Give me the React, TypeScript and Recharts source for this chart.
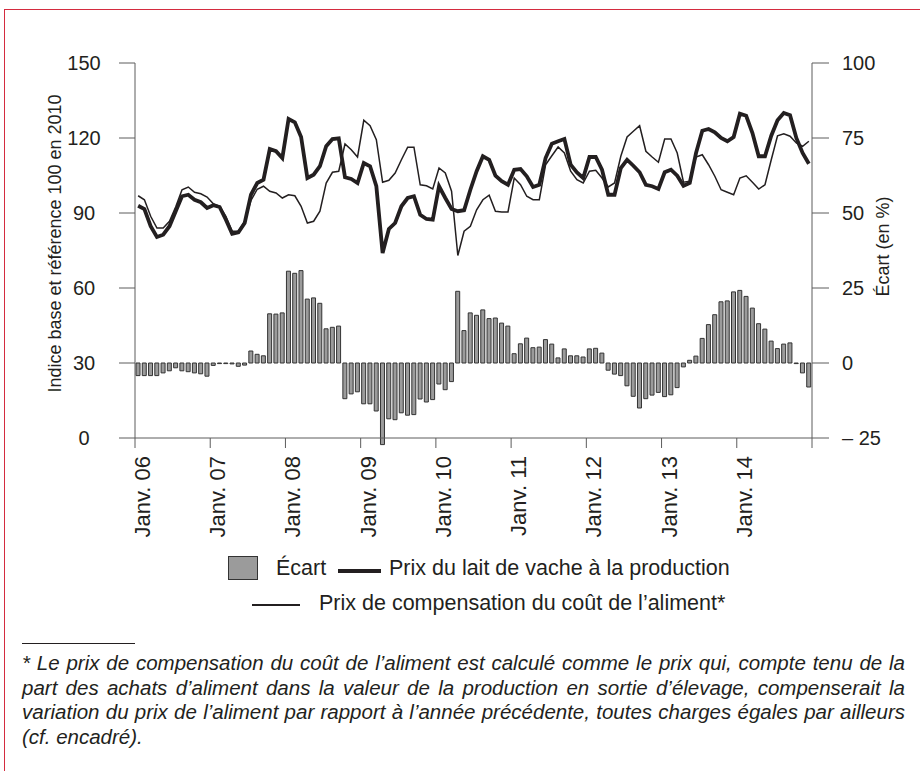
import React from 'react';
import { ComposedChart, Bar, Line, XAxis, YAxis, Legend } from 'recharts';

// Tick labels of the month axis (one per January)
const yearLabels = ['Janv. 06', 'Janv. 07', 'Janv. 08', 'Janv. 09', 'Janv. 10', 'Janv. 11', 'Janv. 12', 'Janv. 13', 'Janv. 14'];

// Écart (en %) — right axis, monthly Jan 2006 .. Dec 2014
const ecart = [
  -4.2, -4.2, -4.2, -4.2, -3.3, -2.6, -1.6, -2.6, -2.9, -3.3, -3.6, -4.4,
  -0.8, -0.2, -0.2, -0.3, -1.1, -0.7, 4.0, 2.9, 2.4, 16.4, 16.3, 16.7,
  30.6, 29.9, 30.8, 21.3, 21.7, 19.9, 11.4, 11.9, 12.3, -11.9, -10.3, -9.6,
  -13.6, -13.6, -16.0, -27.2, -18.6, -18.9, -16.6, -17.4, -17.2, -12.0, -13.0, -12.2,
  -7.0, -8.9, -6.2, 23.9, 10.8, 16.7, 15.9, 17.7, 14.8, 15.0, 13.3, 12.3,
  3.1, 6.4, 8.3, 5.1, 5.3, 7.8, 6.3, 1.7, 4.7, 2.4, 2.4, 2.0,
  4.7, 4.9, 3.3, -2.4, -3.7, -4.2, -7.6, -11.1, -15.0, -11.9, -10.7, -9.8,
  -11.2, -10.6, -8.2, -1.3, 0.9, 2.3, 8.2, 12.8, 16.1, 20.4, 20.7, 23.7,
  24.2, 22.2, 18.3, 13.1, 11.3, 7.3, 4.8, 6.3, 6.7, -0.2, -3.3, -8.0,
];

// Prix du lait de vache à la production — left axis
const prixLait = [
  92.9, 91.6, 84.7, 80.4, 81.3, 84.7, 90.7, 96.7, 97.3, 95.3, 94.3, 92.0,
  93.1, 92.4, 87.3, 81.7, 82.3, 86.0, 97.3, 102.0, 103.3, 115.6, 114.7, 112.0,
  127.6, 126.3, 120.4, 104.0, 105.3, 108.7, 116.7, 119.6, 119.9, 104.3, 103.6, 102.0,
  110.0, 108.7, 100.7, 74.0, 83.6, 86.0, 92.7, 96.0, 96.7, 89.3, 87.6, 87.3,
  100.7, 96.0, 91.6, 90.7, 91.1, 99.3, 106.7, 112.7, 111.3, 104.9, 102.7, 101.3,
  107.3, 107.6, 104.7, 100.4, 101.3, 112.0, 117.7, 118.7, 119.6, 109.3, 106.2, 104.0,
  112.4, 112.4, 107.3, 97.3, 97.3, 108.0, 111.3, 108.9, 106.3, 101.3, 100.7, 99.6,
  106.3, 107.3, 104.9, 100.9, 102.0, 114.0, 122.9, 123.6, 122.3, 120.0, 118.7, 120.4,
  129.7, 128.9, 122.0, 112.7, 112.7, 120.9, 127.1, 130.0, 129.1, 120.0, 114.0, 109.7,
];

// Prix de compensation du coût de l'aliment — left axis
const prixCompensation = [
  96.9, 95.3, 88.7, 84.0, 84.0, 86.7, 92.5, 99.3, 100.4, 98.3, 97.7, 96.4,
  93.7, 92.7, 88.7, 82.7, 82.7, 86.7, 95.0, 99.5, 100.7, 98.7, 98.0, 96.0,
  97.3, 96.9, 92.7, 86.0, 86.7, 90.7, 102.0, 106.3, 106.7, 117.6, 115.3, 112.4,
  127.1, 124.9, 119.3, 102.3, 103.1, 106.0, 111.3, 116.3, 116.3, 101.3, 100.9, 99.6,
  108.0, 106.0, 98.7, 73.0, 82.7, 84.7, 91.3, 95.3, 97.1, 90.7, 90.4, 90.4,
  104.0, 101.3, 96.7, 95.3, 95.3, 109.3, 112.9, 116.4, 114.0, 106.7, 103.3, 102.0,
  106.7, 107.1, 104.0, 100.4, 102.0, 112.7, 120.4, 122.7, 124.9, 114.7, 112.4, 110.3,
  119.6, 119.6, 114.0, 102.3, 102.7, 112.4, 113.3, 109.3, 104.7, 99.3, 98.3, 97.3,
  104.0, 104.9, 102.3, 99.6, 101.3, 111.3, 120.9, 121.7, 120.7, 118.0, 116.7, 118.7,
];

const leftTicks = [0, 30, 60, 90, 120, 150];
const rightTicks = [-25, 0, 25, 50, 75, 100];

const data = ecart.map((e, i) => ({
  m: i + 0.5,
  ecart: e,
  lait: prixLait[i],
  comp: prixCompensation[i],
}));
const monthTicks = Array.from({ length: yearLabels.length + 1 }, (_, k) => k * 12);

const FONT = '"Liberation Sans", Arial, Helvetica, sans-serif';
const INK = '#231f20';
const AXIS = '#5c5c5c';

const MonthTick = (props: any) => {
  const { x, y, payload } = props;
  const label = yearLabels[Math.round(payload.value / 12)];
  if (!label) return null;
  return (
    <text
      transform={`translate(${x + 15},${y + 6}) rotate(-90)`}
      textAnchor="end"
      fontSize={22}
      fontFamily={FONT}
      fill={INK}
    >
      {label}
    </text>
  );
};

const LeftTitle = (props: any) => {
  const vb = props.viewBox;
  return (
    <text
      transform={`translate(${vb.x + 61},${vb.y + vb.height / 2 - 7}) rotate(-90)`}
      textAnchor="middle"
      fontSize={18}
      fontFamily={FONT}
      fill={INK}
    >
      Indice base et référence 100 en 2010
    </text>
  );
};

const RightTitle = (props: any) => {
  const vb = props.viewBox;
  return (
    <text
      transform={`translate(${vb.x + 77},${vb.y + vb.height / 2 - 4}) rotate(-90)`}
      textAnchor="middle"
      fontSize={18}
      fontFamily={FONT}
      fill={INK}
    >
      Écart (en %)
    </text>
  );
};

const legendText: React.CSSProperties = {
  position: 'absolute',
  fontFamily: FONT,
  fontSize: 21.5,
  lineHeight: '24px',
  color: INK,
  whiteSpace: 'nowrap',
};

const renderLegend = () => (
  <div style={{ position: 'relative', width: 920, height: 70 }}>
    <div style={{ position: 'absolute', left: 228, top: 6, width: 30, height: 24, boxSizing: 'border-box', background: '#9b9b9b', border: '1px solid #333' }} />
    <div style={{ ...legendText, left: 276, top: 6 }}>Écart</div>
    <div style={{ position: 'absolute', left: 338, top: 19, width: 43, height: 4, background: INK }} />
    <div style={{ ...legendText, left: 389, top: 6 }}>Prix du lait de vache à la production</div>
    <div style={{ position: 'absolute', left: 252, top: 54, width: 48, height: 1.5, background: INK }} />
    <div style={{ ...legendText, left: 319, top: 41 }}>Prix de compensation du coût de l’aliment*</div>
  </div>
);

const noteLines = [
  '* Le prix de compensation du coût de l’aliment est calculé comme le prix qui, compte tenu de la',
  'part des achats d’aliment dans la valeur de la production en sortie d’élevage, compenserait la',
  'variation du prix de l’aliment par rapport à l’année précédente, toutes charges égales par ailleurs',
  '(cf. encadré).',
];

export default function App() {
  return (
    <div style={{ position: 'absolute', left: 0, top: 0, width: 920, height: 771, background: '#fff', overflow: 'hidden' }}>
      <style>{`.recharts-wrapper .recharts-bar, .recharts-wrapper .recharts-bar-rectangles, .recharts-wrapper .recharts-bar g { clip-path: none !important; }`}</style>
      <div style={{ position: 'absolute', left: 4, top: 9, width: 920, height: 1, background: '#d42b3f' }} />
      <div style={{ position: 'absolute', left: 4, top: 9, width: 1, height: 771, background: '#d42b3f' }} />
      <div style={{ position: 'absolute', left: 0, top: 0 }}>
        <ComposedChart
          width={920}
          height={640}
          data={data}
          margin={{ top: 63, right: 0, bottom: 102, left: 0 }}
        >
          <XAxis
            dataKey="m"
            type="number"
            domain={[0, 108]}
            ticks={monthTicks}
            interval={0}
            height={100}
            tickSize={10}
            tick={<MonthTick />}
            axisLine={{ stroke: AXIS, strokeWidth: 1 }}
            tickLine={{ stroke: AXIS, strokeWidth: 1 }}
          />
          <YAxis
            yAxisId="left"
            orientation="left"
            width={135}
            domain={[0, 150]}
            ticks={leftTicks}
            interval={0}
            tickSize={16}
            tickMargin={35}
            tick={{ fontSize: 20, fill: INK, fontFamily: FONT, textAnchor: 'middle' }}
            axisLine={{ stroke: AXIS, strokeWidth: 1 }}
            tickLine={{ stroke: AXIS, strokeWidth: 1 }}
            label={{ content: LeftTitle }}
          />
          <YAxis
            yAxisId="right"
            orientation="right"
            width={108}
            domain={[-25, 100]}
            allowDataOverflow
            ticks={rightTicks}
            interval={0}
            tickSize={17}
            tickMargin={13}
            tickFormatter={(v: number) => (v < 0 ? `– ${Math.abs(v)}` : `${v}`)}
            tick={{ fontSize: 20, fill: INK, fontFamily: FONT, textAnchor: 'start' }}
            axisLine={{ stroke: AXIS, strokeWidth: 1 }}
            tickLine={{ stroke: AXIS, strokeWidth: 1 }}
            label={{ content: RightTitle }}
          />
          <Legend
            layout="horizontal"
            verticalAlign="middle"
            align="center"
            content={renderLegend}
            wrapperStyle={{ top: 550, left: 0, width: 920, height: 70 }}
          />
          <Bar
            yAxisId="right"
            dataKey="ecart"
            name="Écart"
            barSize={4}
            fill="#9b9b9b"
            stroke="#333"
            strokeWidth={1}
            isAnimationActive={false}
          />
          <Line
            yAxisId="left"
            dataKey="comp"
            name="Prix de compensation du coût de l’aliment*"
            type="linear"
            stroke={INK}
            strokeWidth={1.5}
            dot={false}
            activeDot={false}
            isAnimationActive={false}
          />
          <Line
            yAxisId="left"
            dataKey="lait"
            name="Prix du lait de vache à la production"
            type="linear"
            stroke={INK}
            strokeWidth={3.8}
            dot={false}
            activeDot={false}
            isAnimationActive={false}
          />
        </ComposedChart>
      </div>
      <div style={{ position: 'absolute', left: 22, top: 643, width: 113, height: 1, background: INK }} />
      <div
        style={{
          position: 'absolute',
          left: 22,
          top: 651,
          width: 883,
          fontFamily: FONT,
          fontStyle: 'italic',
          fontSize: 20.5,
          lineHeight: '24.5px',
          color: INK,
        }}
      >
        {noteLines.map((line, i) => (
          <div
            key={i}
            style={{
              textAlign: i < noteLines.length - 1 ? 'justify' : 'left',
              textAlignLast: i < noteLines.length - 1 ? 'justify' : 'left',
              whiteSpace: 'nowrap',
            }}
          >
            {line}
          </div>
        ))}
      </div>
    </div>
  );
}
